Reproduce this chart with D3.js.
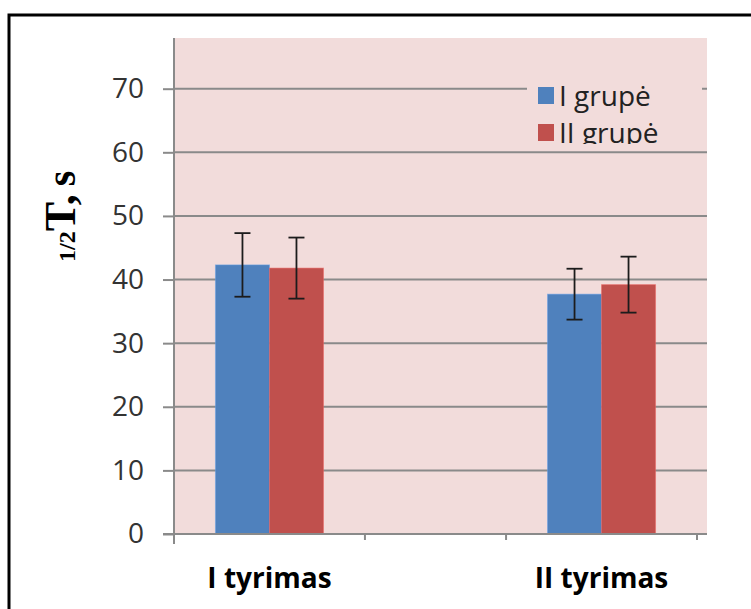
<!DOCTYPE html>
<html><head><meta charset="utf-8">
<script src="https://cdn.jsdelivr.net/npm/d3@7"></script>
<style>body{margin:0;background:#fff}svg{display:block}</style>
</head><body>
<script>
const categories = ["I tyrimas", "II tyrimas"];
const seriesNames = ["I grupė", "II grupė"];
const group1 = [42.3, 37.7];
const group2 = [41.8, 39.2];
const err1 = [5.0, 4.0];
const err2 = [4.8, 4.4];
const yTicks = [0, 10, 20, 30, 40, 50, 60, 70];
const colors = ["#4f81bd", "#c0504d"];

const W = 751, H = 609;
const svg = d3.select("body").append("svg").attr("width", W).attr("height", H);

const plotL = 174, plotR = 707, plotT = 38, plotB = 534;
const y = d3.scaleLinear().domain([0, 70]).range([plotB, 88.7]);
const x = d3.scaleBand().domain(categories).range([plotL, 697]).paddingInner(0.425).paddingOuter(0);
const inner = d3.scaleBand().domain(seriesNames).range([0, 108]);
const offset = (x.bandwidth() - 108) / 2;

// outer border
svg.append("path").attr("d", `M9,${H + 5} L9,15 L${W + 5},15`).attr("fill", "none").attr("stroke", "#000").attr("stroke-width", 3);

// plot area
svg.append("rect").attr("x", plotL).attr("y", plotT).attr("width", plotR - plotL).attr("height", plotB - plotT).attr("fill", "#f2dcdb");

// gridlines
svg.append("g").selectAll("line").data(yTicks.filter(d => d > 0)).join("line")
  .attr("x1", plotL).attr("x2", plotR).attr("y1", d => y(d)).attr("y2", d => y(d))
  .attr("stroke", "#8a8a8a").attr("stroke-width", 2);

// bars
const data = [];
categories.forEach((c, i) => {
  data.push({c, s: seriesNames[0], v: group1[i], e: err1[i], col: colors[0]});
  data.push({c, s: seriesNames[1], v: group2[i], e: err2[i], col: colors[1]});
});
svg.append("g").selectAll("rect").data(data).join("rect")
  .attr("x", d => x(d.c) + offset + inner(d.s))
  .attr("y", d => y(d.v))
  .attr("width", inner.bandwidth())
  .attr("height", d => y(0) - y(d.v))
  .attr("fill", d => d.col)
  .attr("stroke", d => d3.color(d.col).brighter(0.6))
  .attr("stroke-opacity", 0.5).attr("stroke-width", 1);

// error bars
const eg = svg.append("g").attr("stroke", "#1c1c1c").attr("stroke-width", 1.8);
data.forEach(d => {
  const cx = x(d.c) + offset + inner(d.s) + inner.bandwidth() / 2;
  eg.append("line").attr("x1", cx).attr("x2", cx).attr("y1", y(d.v + d.e)).attr("y2", y(d.v - d.e));
  eg.append("line").attr("x1", cx - 8).attr("x2", cx + 8).attr("y1", y(d.v + d.e)).attr("y2", y(d.v + d.e));
  eg.append("line").attr("x1", cx - 8).attr("x2", cx + 8).attr("y1", y(d.v - d.e)).attr("y2", y(d.v - d.e));
});

// y axis
const yAxis = svg.append("g").attr("transform", `translate(${plotL},0)`)
  .call(d3.axisLeft(y).tickValues(yTicks).tickSize(11).tickPadding(19));
yAxis.select(".domain").remove();
yAxis.selectAll(".tick line").attr("stroke", "#8a8a8a").attr("stroke-width", 2);
yAxis.selectAll(".tick text").attr("font-family", "Open Sans").attr("font-size", 28).attr("fill", "#333");
svg.append("line").attr("x1", plotL).attr("x2", plotL).attr("y1", plotT).attr("y2", plotB + 10)
  .attr("stroke", "#8a8a8a").attr("stroke-width", 2);
// x axis
svg.append("line").attr("x1", plotL - 11).attr("x2", plotR).attr("y1", plotB).attr("y2", plotB)
  .attr("stroke", "#8a8a8a").attr("stroke-width", 2);
const edges = [];
categories.forEach(c => { edges.push(x(c)); edges.push(x(c) + x.bandwidth()); });
svg.append("g").selectAll("line").data(edges.slice(1)).join("line")
  .attr("x1", d => d).attr("x2", d => d).attr("y1", plotB).attr("y2", plotB + 6)
  .attr("stroke", "#8a8a8a").attr("stroke-width", 2);
svg.append("g").selectAll("text").data(categories).join("text")
  .attr("x", d => x(d) + x.bandwidth() / 2).attr("y", 588)
  .attr("text-anchor", "middle").attr("font-family", "Open Sans").attr("font-weight", "bold")
  .attr("font-size", 28).attr("fill", "#000").text(d => d);

// y title
const yt = svg.append("text").attr("transform", "translate(75,262) rotate(-90)")
  .attr("font-family", "Liberation Serif").attr("font-weight", "bold").attr("fill", "#000");
yt.append("tspan").attr("font-size", 24).text("1/2");
yt.append("tspan").attr("font-size", 44).text("T");
yt.append("tspan").attr("font-size", 44).text(",");
yt.append("tspan").attr("font-size", 40).attr("dx", 8).text("s");

// legend
svg.append("clipPath").attr("id", "lc").append("rect").attr("x", 527).attr("y", 66).attr("width", 175).attr("height", 78);
const lg = svg.append("g").attr("clip-path", "url(#lc)");
lg.append("rect").attr("x", 527).attr("y", 66).attr("width", 175).attr("height", 78).attr("fill", "#f2dcdb");
seriesNames.forEach((s, i) => {
  lg.append("rect").attr("x", 538).attr("y", 87 + i * 37).attr("width", 16).attr("height", 17).attr("fill", colors[i]);
  lg.append("text").attr("x", 559).attr("y", 106 + i * 37).attr("font-family", "Open Sans")
    .attr("font-size", 28).attr("fill", "#222").text(s);
});
</script>
</body></html>
